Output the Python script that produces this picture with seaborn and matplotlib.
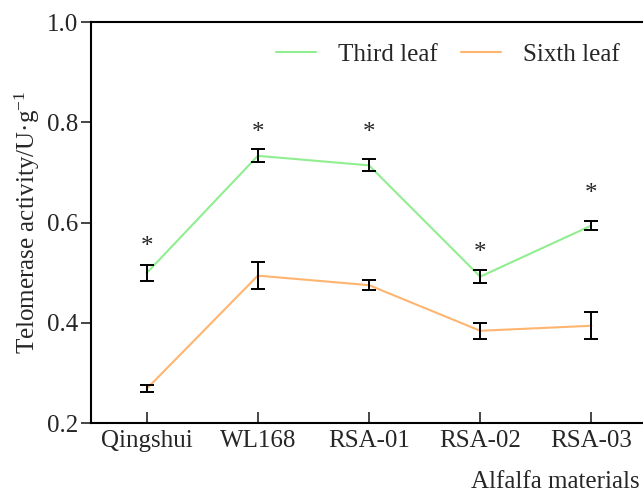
import matplotlib
matplotlib.use("Agg")
import matplotlib.pyplot as plt
import pandas as pd
import seaborn as sns

materials = ["Qingshui", "WL168", "RSA-01", "RSA-02", "RSA-03"]

third_mean = [0.499, 0.733, 0.714, 0.492, 0.594]
third_err = [0.016, 0.013, 0.012, 0.013, 0.008]

sixth_mean = [0.268, 0.494, 0.475, 0.384, 0.394]
sixth_err = [0.007, 0.027, 0.010, 0.016, 0.027]

# heights of the significance marks above the third leaf series
star_y = [0.559, 0.787, 0.787, 0.547, 0.665]

COLORS = {"Third leaf": "#90EE90", "Sixth leaf": "#FFB570"}
FONT_SIZE = 18


def main():
    sns.set_style("ticks")
    plt.rcParams["font.family"] = ["Liberation Serif", "DejaVu Serif"]
    plt.rcParams["mathtext.fontset"] = "custom"
    plt.rcParams["mathtext.rm"] = "Liberation Serif"
    plt.rcParams["mathtext.it"] = "Liberation Serif:italic"

    df = pd.concat(
        [
            pd.DataFrame({"material": materials, "value": third_mean,
                          "err": third_err, "leaf": "Third leaf"}),
            pd.DataFrame({"material": materials, "value": sixth_mean,
                          "err": sixth_err, "leaf": "Sixth leaf"}),
        ],
        ignore_index=True,
    )

    fig = plt.figure(figsize=(6.43, 4.97), dpi=100)
    ax = fig.add_axes([91 / 643, 74 / 497, 556 / 643, 401 / 497])

    sns.lineplot(
        data=df,
        x="material",
        y="value",
        hue="leaf",
        palette=COLORS,
        linewidth=1.5,
        ax=ax,
    )

    for leaf, group in df.groupby("leaf", sort=False):
        ax.errorbar(
            group["material"],
            group["value"],
            yerr=group["err"],
            fmt="none",
            ecolor="black",
            elinewidth=1.4,
            capsize=5,
            capthick=1.4,
        )

    for name, y in zip(materials, star_y):
        ax.annotate("*", xy=(name, y), xytext=(0, -3),
                    textcoords="offset points", ha="center", va="center",
                    fontsize=FONT_SIZE)

    ax.set_xlim(-0.5, 4.5)
    ax.set_ylim(0.2, 1.0)
    ax.set_yticks([0.2, 0.4, 0.6, 0.8, 1.0])
    ax.set_yticklabels(["0.2", "0.4", "0.6", "0.8", "1.0"])

    ax.tick_params(axis="x", direction="in", length=8, width=1.2,
                   labelsize=FONT_SIZE, pad=5)
    ax.tick_params(axis="y", direction="out", length=7, width=1.2,
                   labelsize=FONT_SIZE, pad=2)

    for side in ["left", "bottom", "top"]:
        ax.spines[side].set_linewidth(1.5)
        ax.spines[side].set_color("black")
    ax.spines["right"].set_visible(False)

    ax.set_xlabel("")
    ax.set_ylabel("Telomerase activity/U·g$^{\\mathrm{-1}}$",
                  fontsize=FONT_SIZE, labelpad=4)
    fig.text(640 / 643, 1 - 482 / 497, "Alfalfa materials", ha="right",
             va="center", fontsize=FONT_SIZE)

    ax.legend(
        title=None,
        ncol=2,
        frameon=False,
        loc="center",
        bbox_to_anchor=(0.642, 0.918),
        fontsize=FONT_SIZE,
        handlelength=1.6,
        handletextpad=0.88,
        columnspacing=0.96,
    )

    fig.savefig("out.png", dpi=100)
    plt.close(fig)


if __name__ == "__main__":
    main()
